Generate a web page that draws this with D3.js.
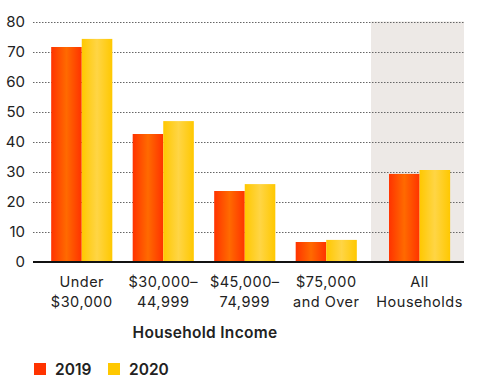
<!DOCTYPE html>
<html>
<head>
<meta charset="utf-8">
<script src="https://cdn.jsdelivr.net/npm/d3@7"></script>
<style>
  body { margin: 0; background: #fff; }
  text { font-family: Inter, "DejaVu Sans", sans-serif; fill: #222; }
</style>
</head>
<body>
<div id="chart"></div>
<script>
var incomeGroups = ["Under $30,000", "$30,000–44,999", "$45,000–74,999", "$75,000 and Over"];
var allGroup = "All Households";
var labelLines = {
  "Under $30,000": ["Under", "$30,000"],
  "$30,000–44,999": ["$30,000–", "44,999"],
  "$45,000–74,999": ["$45,000–", "74,999"],
  "$75,000 and Over": ["$75,000", "and Over"],
  "All Households": ["All", "Households"]
};
var years = ["2019", "2020"];
var values2019 = [71.5, 42.5, 23.5, 6.5, 29.2];
var values2020 = [74.2, 46.8, 25.8, 7.2, 30.5];
var yTicks = [0, 10, 20, 30, 40, 50, 60, 70, 80];

(function () {
  var width = 485, height = 388;
  var categories = incomeGroups.concat([allGroup]);
  var data = categories.map(function (c, i) {
    return { cat: c, vals: [values2019[i], values2020[i]] };
  });

  var svg = d3.select("#chart").append("svg")
    .attr("width", width)
    .attr("height", height);

  var defs = svg.append("defs");
  var grads = [
    { id: "g2019", edge: "#ff3300", mid: "#ff6a00" },
    { id: "g2020", edge: "#ffc800", mid: "#ffd545" }
  ];
  grads.forEach(function (g) {
    var lg = defs.append("linearGradient").attr("id", g.id)
      .attr("x1", "0%").attr("x2", "100%").attr("y1", "0%").attr("y2", "0%");
    lg.append("stop").attr("offset", "0%").attr("stop-color", g.edge);
    lg.append("stop").attr("offset", "50%").attr("stop-color", g.mid);
    lg.append("stop").attr("offset", "100%").attr("stop-color", g.edge);
  });

  var y = d3.scaleLinear().domain([0, 80]).range([261.5, 21.5]);

  var xMain = d3.scaleBand().domain(incomeGroups)
    .range([41, 367]).paddingInner(0.25).paddingOuter(0.125);
  var xAll = d3.scaleBand().domain([allGroup])
    .range([373, 466]).paddingInner(0.208).paddingOuter(0.208);
  function xPos(c) { return c === allGroup ? xAll(c) : xMain(c); }
  var bw = xMain.bandwidth();
  var xSub = d3.scaleBand().domain(years).range([0, bw]);

  // shaded panel for "All Households"
  svg.append("rect")
    .attr("x", 371).attr("y", y(80))
    .attr("width", 464 - 371).attr("height", y(0) - y(80))
    .attr("fill", "#ede9e6");

  // gridlines
  svg.append("g").selectAll("line")
    .data(yTicks.filter(function (d) { return d > 0; }))
    .enter().append("line")
    .attr("x1", 33).attr("x2", 464)
    .attr("y1", function (d) { return Math.round(y(d)) + 0.5; })
    .attr("y2", function (d) { return Math.round(y(d)) + 0.5; })
    .attr("stroke", "#666")
    .attr("stroke-width", 1)
    .attr("stroke-dasharray", "1.5,1.5");

  // y labels
  svg.append("g").selectAll("text")
    .data(yTicks)
    .enter().append("text")
    .attr("x", 25)
    .attr("y", function (d) { return y(d) + 5; })
    .attr("text-anchor", "end")
    .attr("font-size", 15)
    .text(function (d) { return d; });

  // bars
  var groups = svg.append("g").selectAll("g")
    .data(data)
    .enter().append("g")
    .attr("transform", function (d) { return "translate(" + xPos(d.cat) + ",0)"; });

  groups.selectAll("rect")
    .data(function (d) { return d.vals.map(function (v, i) { return { year: years[i], v: v }; }); })
    .enter().append("rect")
    .attr("x", function (d) { return xSub(d.year); })
    .attr("width", xSub.bandwidth())
    .attr("y", function (d) { return y(d.v); })
    .attr("height", function (d) { return y(0) - y(d.v); })
    .attr("fill", function (d) { return "url(#g" + d.year + ")"; });

  // baseline
  svg.append("line")
    .attr("x1", 33).attr("x2", 464)
    .attr("y1", y(0) + 0.5).attr("y2", y(0) + 0.5)
    .attr("stroke", "#111").attr("stroke-width", 2);

  // x labels
  var xl = svg.append("g").selectAll("text")
    .data(categories)
    .enter().append("text")
    .attr("text-anchor", "middle")
    .attr("font-size", 14.5)
    .attr("letter-spacing", 0.5)
    .attr("transform", function (c) { return "translate(" + (xPos(c) + bw / 2) + ",0)"; });
  xl.selectAll("tspan")
    .data(function (c) { return labelLines[c]; })
    .enter().append("tspan")
    .attr("x", 0)
    .attr("y", function (d, i) { return 287 + i * 20; })
    .text(function (d) { return d; });

  svg.append("text")
    .attr("x", 205).attr("y", 338)
    .attr("text-anchor", "middle")
    .attr("font-size", 15.5)
    .attr("font-weight", 600)
    .attr("letter-spacing", 0.3)
    .text("Household Income");

  // legend
  var legendColors = ["#ff3300", "#ffc800"];
  var leg = svg.append("g").selectAll("g")
    .data(years)
    .enter().append("g")
    .attr("transform", function (d, i) { return "translate(" + (34 + i * 74) + ",363)"; });
  leg.append("rect")
    .attr("width", 12).attr("height", 12)
    .attr("fill", function (d, i) { return legendColors[i]; });
  leg.append("text")
    .attr("x", 21).attr("y", 11.5)
    .attr("font-size", 15.5)
    .attr("font-weight", 600)
    .text(function (d) { return d; });
})();
</script>
</body>
</html>
